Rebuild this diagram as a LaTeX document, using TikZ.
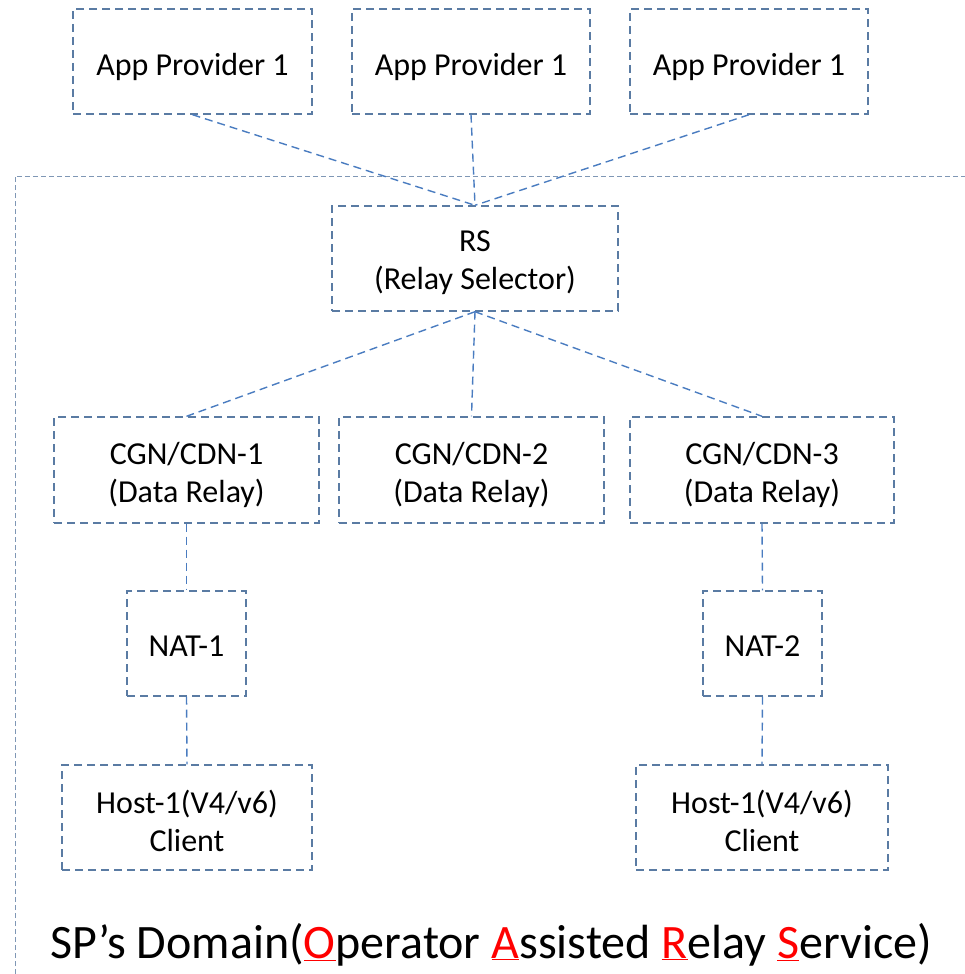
\documentclass[tikz,border=0pt]{standalone}
\usepackage{fontspec}
\setmainfont{Carlito}
\definecolor{boxline}{HTML}{5A7BA3}
\definecolor{conline}{HTML}{4A7CC0}
\definecolor{frameline}{HTML}{7F97B5}
\definecolor{redtxt}{HTML}{FF0000}
\newcommand{\redul}[1]{{\color{redtxt}\underline{#1}}}
\tikzset{
  box/.style={draw=boxline, line width=1.4pt, dash pattern=on 8pt off 5pt, inner sep=0pt},
  lab/.style={inner sep=0pt, align=center, font=\fontsize{32}{38}\selectfont},
  con/.style={draw=conline, line width=1.4pt, dash pattern=on 8pt off 5pt},
  frame/.style={draw=frameline, line width=1pt, dash pattern=on 5pt off 3pt},
}
\begin{document}
\begin{tikzpicture}[x=1pt,y=-1pt]
\useasboundingbox (0,0) rectangle (965,974);
% domain frame
\draw[frame] (15,974) -- (15,176) -- (965,176);
% app providers
\node[box, minimum width=239pt, minimum height=105pt, label={[lab,yshift=-5pt]center:App Provider 1}] (ap1) at (192.5,61.5) {};
\node[box, minimum width=238pt, minimum height=105pt, label={[lab,yshift=-5pt]center:App Provider 1}] (ap2) at (471,61.5) {};
\node[box, minimum width=238pt, minimum height=105pt, label={[lab,yshift=-5pt]center:App Provider 1}] (ap3) at (749,61.5) {};
% relay selector
\node[box, minimum width=286pt, minimum height=105pt, label={[lab,yshift=-4pt]center:RS\\(Relay Selector)}] (rs) at (475,258.5) {};
% data relays
\node[box, minimum width=265pt, minimum height=106pt, label={[lab,yshift=-5pt]center:CGN/CDN-1\\(Data Relay)}] (cgn1) at (186.5,470) {};
\node[box, minimum width=265pt, minimum height=106pt, label={[lab,yshift=-5pt]center:CGN/CDN-2\\(Data Relay)}] (cgn2) at (471.5,470) {};
\node[box, minimum width=264pt, minimum height=106pt, label={[lab,yshift=-5pt]center:CGN/CDN-3\\(Data Relay)}] (cgn3) at (762,470) {};
% NATs
\node[box, minimum width=119pt, minimum height=105pt, label={[lab,yshift=-3pt]center:NAT-1}] (nat1) at (186.5,643.5) {};
\node[box, minimum width=119pt, minimum height=105pt, label={[lab,yshift=-3pt]center:NAT-2}] (nat2) at (762.5,643.5) {};
% hosts
\node[box, minimum width=250pt, minimum height=105pt, label={[lab,yshift=-3pt]center:Host-1(V4/v6)\\Client}] (h1) at (187,817.5) {};
\node[box, minimum width=252pt, minimum height=105pt, label={[lab,yshift=-3pt]center:Host-1(V4/v6)\\Client}] (h2) at (762,817.5) {};
% connectors
\draw[con] (ap1.south) -- (rs.north);
\draw[con] (ap2.south) -- (rs.north);
\draw[con] (ap3.south) -- (rs.north);
\draw[con] (rs.south) -- (cgn1.north);
\draw[con] (rs.south) -- (cgn2.north);
\draw[con] (rs.south) -- (cgn3.north);
\draw[con] (cgn1.south) -- (nat1.north);
\draw[con] (nat1.south) -- (h1.north);
\draw[con] (cgn3.south) -- (nat2.north);
\draw[con] (nat2.south) -- (h2.north);
% title
\node[font=\fontsize{48}{56}\selectfont, inner sep=0pt, anchor=base] (title) at (491,958)
  {SP’s Domain(\redul{O}perator \redul{A}ssisted \redul{R}elay \redul{S}ervice)};
\end{tikzpicture}
\end{document}
